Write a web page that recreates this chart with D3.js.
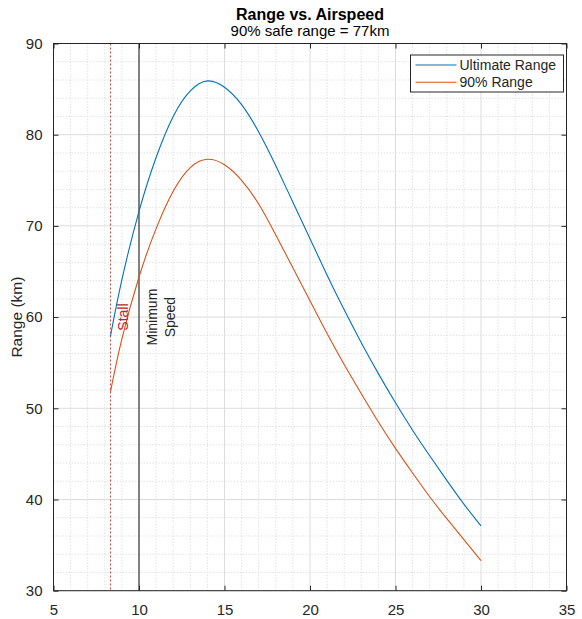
<!DOCTYPE html>
<html lang="en">
<head>
<meta charset="utf-8">
<title>Range vs. Airspeed</title>
<style>
  body { margin: 0; background: #fff; }
  text { font-family: "Liberation Sans", Arial, sans-serif; fill: #262626; }
  .title { font-size: 16px; font-weight: bold; text-anchor: middle; fill: #000; }
  .subtitle { font-size: 15px; text-anchor: middle; fill: #000; }
  .tick-label { font-size: 15px; }
  .axis-title { font-size: 15.5px; text-anchor: middle; }
  .grid-major { stroke: #dcdcdc; stroke-width: 1; }
  .grid-minor { stroke: #e2e2e2; stroke-width: 1; stroke-dasharray: 1.5, 1.5; }
  .frame { fill: none; stroke: #262626; stroke-width: 1; }
  .legend-text { font-size: 14px; }
  .ref-label { font-size: 14px; }
</style>
</head>
<body>
<div id="chart"></div>
<script src="https://cdn.jsdelivr.net/npm/d3@7/dist/d3.min.js"></script>
<script>

// values
var airspeed = [8.33, 9, 10, 11, 12, 13, 14, 15, 16, 17, 18, 19, 20, 21, 22, 23, 24, 25, 26, 27, 28, 29, 30];
var ultimateRange = [57.9, 64.1, 71.6, 77.5, 82.0, 84.8, 85.9, 85.2, 83.3, 80.3, 76.6, 72.6, 68.6, 64.6, 60.8, 57.2, 53.8, 50.6, 47.6, 44.8, 42.1, 39.5, 37.1];
var safeRange = [51.8, 57.6, 64.4, 69.7, 73.8, 76.4, 77.3, 76.7, 75.0, 72.4, 69.0, 65.4, 61.8, 58.2, 54.8, 51.6, 48.5, 45.6, 42.9, 40.3, 37.9, 35.6, 33.3];
var seriesNames = ["Ultimate Range", "90% Range"];
var seriesColors = ["#0072BD", "#D95319"];
var xTicks = [5, 10, 15, 20, 25, 30, 35];
var yTicks = [30, 40, 50, 60, 70, 80, 90];
var stallSpeed = 8.33;
var minimumSpeed = 10;
var labelLevel = 60;

var W = 582, H = 619;
var margin = {top: 43.5, right: 15.5, bottom: 28.3, left: 53.5};
var width = W - margin.left - margin.right,
    height = H - margin.top - margin.bottom;

var svg = d3.select("#chart").append("svg")
    .attr("width", W)
    .attr("height", H);

var plt = svg.append("g")
    .attr("transform", "translate(" + margin.left + "," + margin.top + ")");

var xScale = d3.scaleLinear().domain([5, 35]).range([0, width]);
var yScale = d3.scaleLinear().domain([30, 90]).range([height, 0]);

// minor grid
plt.append("g").selectAll("line")
   .data(d3.range(5, 36, 1).filter(function(d){ return d % 5 !== 0; }))
   .enter().append("line")
   .attr("class", "grid-minor")
   .attr("x1", function(d){ return xScale(d); })
   .attr("x2", function(d){ return xScale(d); })
   .attr("y1", 0).attr("y2", height);

plt.append("g").selectAll("line")
   .data(d3.range(30, 91, 2).filter(function(d){ return d % 10 !== 0; }))
   .enter().append("line")
   .attr("class", "grid-minor")
   .attr("y1", function(d){ return yScale(d); })
   .attr("y2", function(d){ return yScale(d); })
   .attr("x1", 0).attr("x2", width);

// major grid
plt.append("g").selectAll("line")
   .data(xTicks)
   .enter().append("line")
   .attr("class", "grid-major")
   .attr("x1", function(d){ return xScale(d); })
   .attr("x2", function(d){ return xScale(d); })
   .attr("y1", 0).attr("y2", height);

plt.append("g").selectAll("line")
   .data(yTicks)
   .enter().append("line")
   .attr("class", "grid-major")
   .attr("y1", function(d){ return yScale(d); })
   .attr("y2", function(d){ return yScale(d); })
   .attr("x1", 0).attr("x2", width);

// reference lines
plt.append("line")
   .attr("x1", xScale(stallSpeed)).attr("x2", xScale(stallSpeed))
   .attr("y1", 0).attr("y2", height)
   .style("stroke", "#cc4a3c")
   .style("stroke-width", 1)
   .style("stroke-dasharray", "2, 2");

plt.append("line")
   .attr("x1", xScale(minimumSpeed)).attr("x2", xScale(minimumSpeed))
   .attr("y1", 0).attr("y2", height)
   .style("stroke", "#3a3a3a")
   .style("stroke-width", 1.2);

// curves
var line = d3.line()
    .x(function(d){ return xScale(d[0]); })
    .y(function(d){ return yScale(d[1]); })
    .curve(d3.curveNatural);

[ultimateRange, safeRange].forEach(function(vals, i){
  plt.append("path")
     .datum(d3.zip(airspeed, vals))
     .attr("d", line)
     .style("fill", "none")
     .style("stroke", seriesColors[i])
     .style("stroke-width", 1.1);
});

// reference labels
plt.append("text")
   .attr("class", "ref-label")
   .attr("transform", "translate(" + (xScale(stallSpeed) + 17.5) + "," + yScale(labelLevel) + ") rotate(-90)")
   .attr("text-anchor", "middle")
   .style("fill", "#b8242c")
   .text("Stall");

var minLabel = plt.append("text")
   .attr("class", "ref-label")
   .attr("transform", "translate(" + (xScale(minimumSpeed) + 18) + "," + yScale(labelLevel) + ") rotate(-90)")
   .attr("text-anchor", "middle");
minLabel.append("tspan").attr("x", 0).attr("dy", 0).text("Minimum");
minLabel.append("tspan").attr("x", 0).attr("dy", 18).text("Speed");

// axes: ticks inside, box on
var xAxis = plt.append("g")
   .attr("transform", "translate(0," + height + ")")
   .call(d3.axisBottom(xScale).tickValues(xTicks).tickSize(-5).tickPadding(14));
var xAxisTop = plt.append("g")
   .call(d3.axisTop(xScale).tickValues(xTicks).tickSize(-5).tickFormat(""));
var yAxis = plt.append("g")
   .call(d3.axisLeft(yScale).tickValues(yTicks).tickSize(-5).tickPadding(11));
var yAxisRight = plt.append("g")
   .attr("transform", "translate(" + width + ",0)")
   .call(d3.axisRight(yScale).tickValues(yTicks).tickSize(-5).tickFormat(""));

[xAxis, xAxisTop, yAxis, yAxisRight].forEach(function(ax){
  ax.select(".domain").remove();
  ax.selectAll(".tick line").style("stroke", "#262626");
  ax.selectAll(".tick text").attr("class", "tick-label").style("fill", "#262626");
});

plt.append("rect")
   .attr("class", "frame")
   .attr("width", width)
   .attr("height", height);

// legend
var legend = plt.append("g")
   .attr("transform", "translate(" + (width - 156) + ",11.5)");

legend.append("rect")
   .attr("width", 153)
   .attr("height", 37)
   .style("fill", "#fff")
   .style("stroke", "#262626")
   .style("stroke-width", 1);

seriesNames.forEach(function(name, i){
  var row = legend.append("g").attr("transform", "translate(0," + (10 + i * 17.3) + ")");
  row.append("line")
     .attr("x1", 5).attr("x2", 46)
     .style("stroke", seriesColors[i])
     .style("stroke-width", 1.1);
  row.append("text")
     .attr("class", "legend-text")
     .attr("x", 49)
     .attr("dy", "0.35em")
     .text(name);
});

// titles
svg.append("text")
   .attr("class", "title")
   .attr("x", margin.left + width / 2)
   .attr("y", 20)
   .text("Range vs. Airspeed");

svg.append("text")
   .attr("class", "subtitle")
   .attr("x", margin.left + width / 2)
   .attr("y", 36)
   .text("90% safe range = 77km");

svg.append("text")
   .attr("class", "axis-title")
   .attr("transform", "rotate(-90)")
   .attr("x", -(margin.top + height / 2))
   .attr("y", 22)
   .text("Range (km)");

</script>
</body>
</html>
